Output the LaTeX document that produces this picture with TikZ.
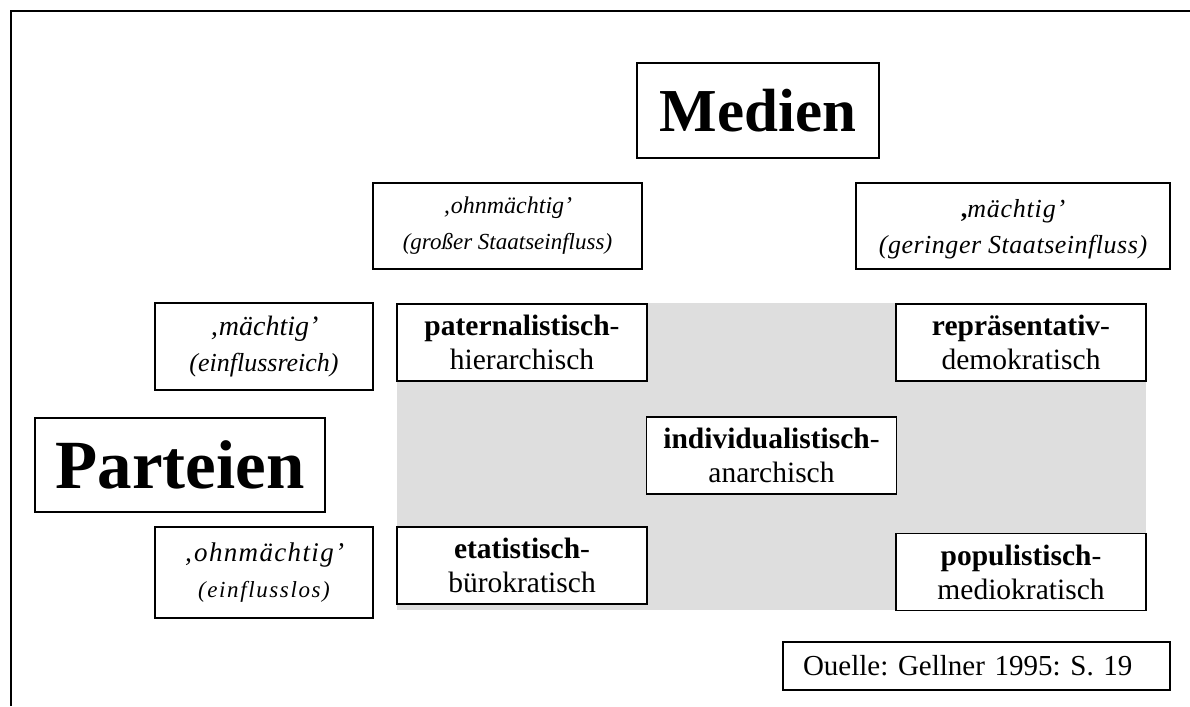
\documentclass[tikz,border=0pt]{standalone}
\usepackage{fontspec}
\setmainfont{Liberation Serif}
\definecolor{bgGray}{HTML}{DEDEDE}
\newcommand{\lsp}[1]{\addfontfeatures{LetterSpace=#1}}
\begin{document}
\frenchspacing
\begin{tikzpicture}[x=1pt,y=-1pt,
  box/.style={draw=black, line width=1.6pt, fill=white, inner sep=0pt, align=center},
  typ/.style={box, minimum width=250pt, minimum height=77pt, font=\fontsize{29.5}{34}\selectfont},
  big/.style={box, font=\bfseries\fontsize{61}{64}\selectfont},
  side/.style={box, font=\itshape\fontsize{22}{36}\selectfont},
]
\useasboundingbox (0,0) rectangle (1190,706);
\coordinate (fa) at (11,706);
\coordinate (fb) at (11,11);
\coordinate (fc) at (1190,11);
\draw[line width=2pt] (fa) -- (fb) -- (fc);

\node[fill=bgGray, minimum width=749pt, minimum height=307pt, inner sep=0pt] (bg) at (771.5,456.5) {};

\node[big, minimum width=242pt, minimum height=95pt] (medien) at (758,110.5) {Medien};
\node[big, minimum width=290pt, minimum height=94pt, font=\bfseries\fontsize{69}{72}\selectfont] (parteien) at (180,465) {Parteien};

\node[side, minimum width=269pt, minimum height=86pt] (stA) at (507.5,226)
  {{\fontsize{24}{36}\selectfont ‚ohnmächtig’}\\{\fontsize{23}{36}\selectfont (großer Staatseinfluss)}};
\node[side, minimum width=314pt, minimum height=86pt, text depth=0pt] (stB) at (1013,226)
  {{\fontsize{26}{36}\selectfont\lsp{3}{\upshape\bfseries ,}mächtig’}\\{\fontsize{26}{36}\selectfont\lsp{2}(geringer Staatseinfluss)}};
\node[side, minimum width=218pt, minimum height=87pt] (paA) at (264,346.5)
  {{\fontsize{28}{36}\selectfont ‚mächtig’}\\{\fontsize{26}{36}\selectfont (einflussreich)}};
\node[side, minimum width=218pt, minimum height=91pt] (paB) at (264,572.5)
  {{\fontsize{27}{36}\selectfont\lsp{5}‚ohnmächtig’}\\{\fontsize{23}{36}\selectfont\lsp{7}(einflusslos)}};

\node[typ] (pat) at (522,342.5) {\textbf{paternalistisch}-\\hierarchisch};
\node[typ] (ind) at (771.5,455.5) {\textbf{individualistisch}-\\anarchisch};
\node[typ] (rep) at (1021,342.5) {\textbf{repräsentativ}-\\demokratisch};
\node[typ] (eta) at (522,565.5) {\textbf{etatistisch}-\\bürokratisch};
\node[typ] (pop) at (1021,572) {\textbf{populistisch}-\\mediokratisch};

\node[box, minimum height=48pt, text width=387pt, align=left, font=\fontsize{29}{32}\selectfont] (src) at (976.5,666)
  {\hspace*{20pt}Ouelle: Gellner 1995: S. 19};
\end{tikzpicture}
\end{document}
